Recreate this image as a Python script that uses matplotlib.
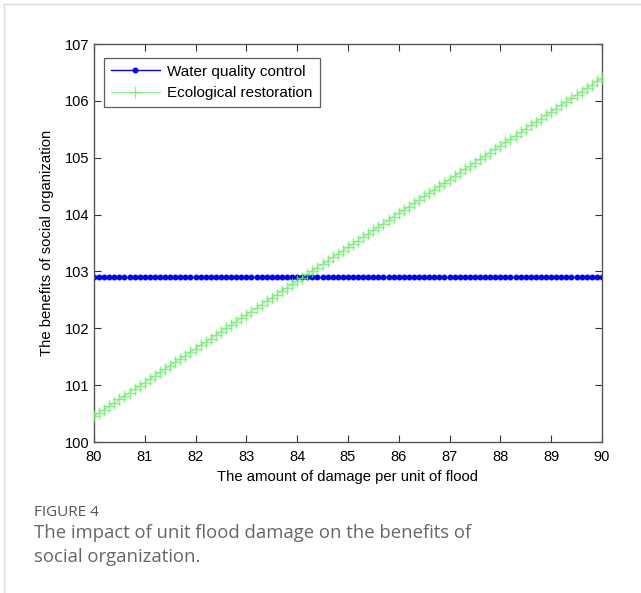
import matplotlib.pyplot as plt
import numpy as np

plt.rcParams['font.family'] = ['Liberation Sans', 'DejaVu Sans']

# damage per unit of flood (sampling grid of the curves)
damage = np.linspace(80, 90, 101)

# water quality control: flat
water_quality = [102.9] * 101

# ecological restoration
ecological = [
    100.450, 100.510, 100.569, 100.629, 100.688, 100.748, 100.807, 100.867, 100.926, 100.986,
    101.045, 101.105, 101.164, 101.224, 101.283, 101.343, 101.402, 101.462, 101.521, 101.581,
    101.640, 101.700, 101.759, 101.819, 101.878, 101.938, 101.997, 102.057, 102.116, 102.176,
    102.235, 102.295, 102.354, 102.414, 102.473, 102.533, 102.592, 102.652, 102.711, 102.771,
    102.830, 102.890, 102.949, 103.009, 103.068, 103.128, 103.187, 103.247, 103.306, 103.366,
    103.425, 103.485, 103.544, 103.604, 103.663, 103.723, 103.782, 103.842, 103.901, 103.961,
    104.020, 104.080, 104.139, 104.199, 104.258, 104.318, 104.377, 104.437, 104.496, 104.556,
    104.615, 104.675, 104.734, 104.794, 104.853, 104.913, 104.972, 105.032, 105.091, 105.151,
    105.210, 105.270, 105.329, 105.389, 105.448, 105.508, 105.567, 105.627, 105.686, 105.746,
    105.805, 105.865, 105.924, 105.984, 106.043, 106.103, 106.162, 106.222, 106.281, 106.341,
    106.400,
]

xticks = list(range(80, 91))
yticks = list(range(100, 108))

fig = plt.figure(figsize=(6.41, 5.93), dpi=100)
ax = fig.add_axes([0.1466, 0.2546, 0.7924, 0.6712])

ax.plot(damage, water_quality, color='#0000ff', marker='.', markersize=6.5,
        linewidth=1, label='Water quality control', zorder=2)
ax.plot(damage, ecological, color='#66ee66', marker='+', markersize=8,
        linewidth=0.8, alpha=0.75, label='Ecological restoration', zorder=3)

ax.set_xlim(80, 90)
ax.set_ylim(100, 107)
ax.set_xticks(xticks)
ax.set_yticks(yticks)
ax.tick_params(direction='in', top=True, right=True, length=5, labelsize=10.5,
               color='#333333', pad=3)
ax.tick_params(axis='x', pad=6)
for s in ax.spines.values():
    s.set_color('#555555')
    s.set_linewidth(1)

ax.set_xlabel('The amount of damage per unit of flood', fontsize=10.7, labelpad=4)
ax.set_ylabel('The benefits of social organization', fontsize=10.7, labelpad=8)

leg = ax.legend(loc='upper left', fontsize=11, frameon=True, fancybox=False,
                borderpad=0.45, labelspacing=0.5, handlelength=3.2,
                handletextpad=0.5, borderaxespad=0,
                bbox_to_anchor=(0.0197, 0.965))
leg.get_frame().set_edgecolor('#333333')
leg.get_frame().set_linewidth(0.9)

# page frame and caption
fig.add_artist(plt.Line2D([4/641, 4/641], [0, 1 - 4/593], color='#dddddd', lw=1))
fig.add_artist(plt.Line2D([4/641, 1], [1 - 4/593, 1 - 4/593], color='#dddddd', lw=1))
fig.text(34/641, 1 - 512/593, 'FIGURE 4', fontsize=11, color='#555555',
         family=['Open Sans', 'DejaVu Sans'], va='center')
fig.text(34/641, 1 - 533/593, 'The impact of unit flood damage on the benefits of',
         fontsize=13.3, color='#666666', family=['Open Sans', 'DejaVu Sans'], va='center')
fig.text(34/641, 1 - 557/593, 'social organization.',
         fontsize=13.3, color='#666666', family=['Open Sans', 'DejaVu Sans'], va='center')

fig.savefig('out.png', dpi=100)
